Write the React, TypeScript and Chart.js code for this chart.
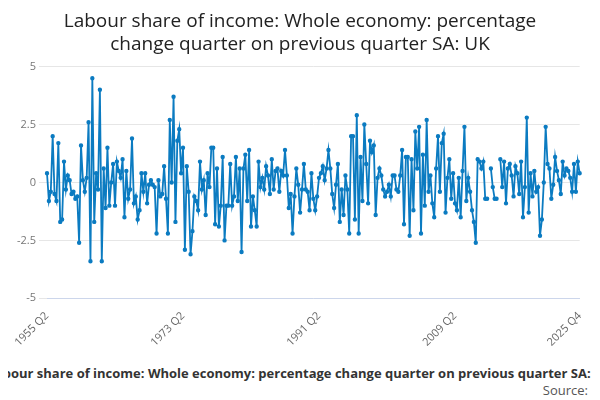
import React, { useEffect, useRef } from "react";
import { Chart, registerables } from "chart.js";
Chart.register(...registerables);

const values: (number | null)[] = [
  0.4,-0.8,-0.4,2.0,-0.5,-0.8,1.7,-1.7,-1.6,0.9,-0.3,0.3,0.1,-0.5,-0.4,-0.7,-0.6,-2.6,1.6,0.1,-0.4,
  0.2,2.6,-3.4,4.5,-1.7,0.4,-0.3,4.0,-3.4,0.6,-1.1,1.5,-1.0,0.0,0.8,-1.0,0.9,0.5,0.2,1.0,
  -1.5,0.5,-0.7,-0.3,1.9,-0.9,-0.6,-1.6,-1.2,0.4,-0.4,0.4,-0.9,-0.1,0.1,-0.1,-0.2,-2.2,0.1,-0.6,
  -0.5,0.7,-0.7,-2.2,2.7,0.0,3.7,-1.7,1.8,2.3,0.4,1.5,-2.9,0.7,-0.4,-3.1,-2.1,-0.6,-0.8,-1.2,
  0.9,-0.3,0.1,-1.4,0.4,-0.2,1.5,1.5,-1.8,0.6,-1.9,-1.0,1.1,-2.5,-1.0,-1.0,0.8,-1.0,-0.6,1.1,
  -0.8,0.6,-3.0,0.6,1.2,-0.8,1.4,-1.9,-0.6,-1.2,-1.9,0.9,-0.2,0.2,-0.3,0.7,0.3,-0.5,1.0,-0.3,
  0.5,0.6,-0.4,0.5,0.3,1.4,0.3,-1.1,-0.5,-2.2,-0.6,0.6,-0.1,-1.3,-0.3,0.8,-0.3,-0.4,-1.2,0.4,-0.7,-1.2,-0.6,0.2,
  0.4,0.7,0.1,0.6,1.4,0.6,-0.5,-1.1,-0.1,0.8,-1.7,-0.3,-1.4,0.3,-0.3,-2.2,2.0,2.0,-1.6,2.9,-2.2,1.1,-0.8,2.5,0.8,-0.9,
  1.8,1.3,1.6,-1.4,0.2,0.6,0.3,-0.3,-0.6,-0.4,-0.1,-0.6,0.3,0.3,-0.3,-0.4,0.3,1.4,-1.8,1.1,
  1.1,-2.3,1.0,-1.2,2.2,0.6,2.4,-2.2,1.2,-1.0,2.7,-0.4,0.3,-0.9,-1.5,0.6,2.0,-0.4,1.7,2.1,-1.3,0.2,1.0,-0.7,0.4,-0.9,
  -1.2,0.2,-1.5,0.5,2.4,-0.8,0.2,-0.4,-1.2,-1.7,-2.6,1.0,0.9,0.6,0.9,-0.7,-0.7,null,0.6,-0.2,-0.7,-0.7,null,1.0,
  -0.2,0.9,-0.9,0.6,0.8,0.3,-0.6,0.7,0.4,-0.5,0.9,-1.5,-0.2,2.8,-1.3,0.4,-0.6,0.5,-0.4,-0.2,-2.3,-1.6,
  0.0,2.4,0.8,0.6,-0.7,-0.1,1.1,0.5,0.1,-0.5,0.9,0.3,0.6,0.5,0.2,-0.4,0.8,-0.4,0.9,0.4,
];
const startYear = 1955;
const startQuarter = 2;
const shownTicks = ["1955 Q2", "1973 Q2", "1991 Q2", "2009 Q2", "2025 Q4"];
const labels = values.map((_, i) => {
  const q = startQuarter - 1 + i;
  return `${startYear + Math.floor(q / 4)} Q${(q % 4) + 1}`;
});

export default function App() {
  const ref = useRef<HTMLCanvasElement>(null);
  useEffect(() => {
    const chart = new Chart(ref.current!, {
      type: "line",
      data: {
        labels,
        datasets: [{
          data: values,
          borderColor: "#0b7bc1",
          backgroundColor: "#0b7bc1",
          borderWidth: 1.8,
          pointRadius: 1.3,
          pointHoverRadius: 2,
          tension: 0,
          spanGaps: false,
        }],
      },
      options: {
        animation: false,
        responsive: false,
        layout: { padding: { left: 6, right: 6, top: 2, bottom: 0 } },
        plugins: {
          legend: { display: false },
          tooltip: { enabled: false },
          title: {
            display: true,
            text: ["Labour share of income: Whole economy: percentage", "change quarter on previous quarter SA: UK"],
            color: "#222",
            font: { family: "Open Sans", size: 19, weight: "normal" },
            padding: { top: 0, bottom: 11 },
            lineHeight: 1.2,
          },
        },
        scales: {
          x: {
            grid: { display: false, drawTicks: true },
            border: { color: "#ccd6eb" },
            ticks: {
              autoSkip: false,
              maxRotation: 45,
              minRotation: 45,
              color: "#666",
              font: { family: "Open Sans", size: 11 },
              callback: (_v, i) => (shownTicks.includes(labels[i]) ? labels[i] : ""),
            },
          },
          y: {
            min: -5,
            max: 5,
            grid: { color: "#e6e6e6" },
            border: { display: false },
            ticks: {
              stepSize: 2.5,
              color: "#777",
              font: { family: "Open Sans", size: 11 },
              callback: (v) => String(v),
            },
          },
        },
      },
    });
    return () => chart.destroy();
  }, []);
  return (
    <div style={{ position: "relative", width: 584, height: 392, overflow: "hidden", fontFamily: "Open Sans" }}>
      <canvas ref={ref} width={584} height={344} />
      <div style={{ position: "absolute", top: 356, left: -60, width: 704, textAlign: "center", fontSize: 13, fontWeight: "bold", color: "#333", whiteSpace: "nowrap" }}>
        Labour share of income: Whole economy: percentage change quarter on previous quarter SA: UK
      </div>
      <div style={{ position: "absolute", top: 373, right: 4, fontSize: 13, color: "#555" }}>Source:</div>
    </div>
  );
}
